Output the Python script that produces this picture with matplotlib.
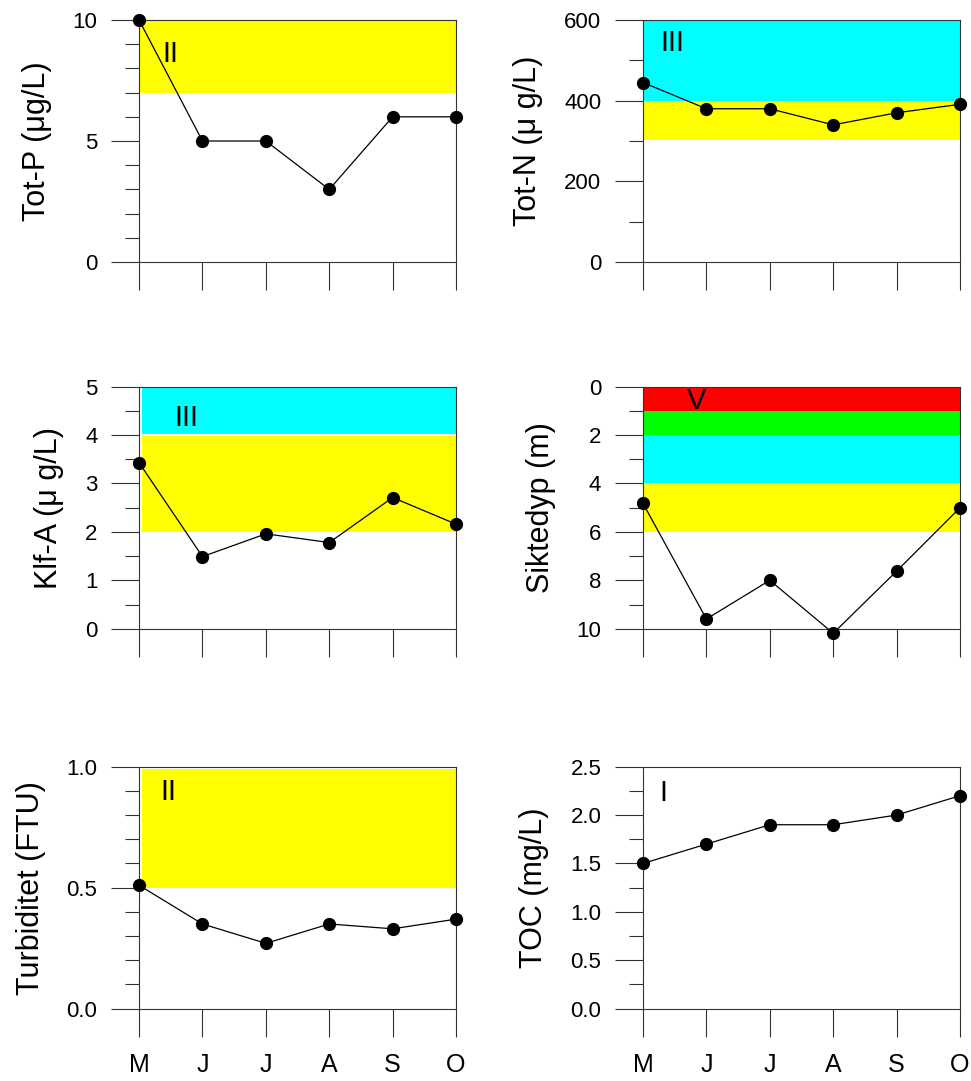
import matplotlib.pyplot as plt
from matplotlib.ticker import MultipleLocator, FormatStrFormatter

plt.rcParams['font.family'] = ['Liberation Sans', 'DejaVu Sans']

months = ['M', 'J', 'J', 'A', 'S', 'O']

tot_p = [10, 5, 5, 3, 6, 6]
tot_n = [445, 380, 380, 340, 370, 391]
klf_a = [3.43, 1.49, 1.96, 1.78, 2.71, 2.16]
siktedyp = [4.82, 9.6, 8.0, 10.19, 7.62, 5.0]
turbiditet = [0.51, 0.35, 0.27, 0.35, 0.33, 0.37]
toc = [1.5, 1.7, 1.9, 1.9, 2.0, 2.2]

labels = ['Tot-P (μg/L)', 'Tot-N (μ g/L)', 'Klf-A (μ g/L)',
          'Siktedyp (m)', 'Turbiditet (FTU)', 'TOC (mg/L)']
classes = ['II', 'III', 'III', 'V', 'II', 'I']
class_pos = [(0.49, 8.6), (0.47, 543), (0.75, 4.36), (0.85, 0.58), (0.46, 0.897), (0.32, 2.23)]

# colour bands (low, high, colour) for each panel
bands_p = [(7, 10, '#ffff00')]
bands_n = [(400, 600, '#00ffff'), (302, 398, '#ffff00')]
bands_a = [(4.03, 5, '#00ffff'), (2, 3.98, '#ffff00')]
bands_s = [(0, 1, '#ff0000'), (1, 2, '#00ff00'), (2, 4, '#00ffff'), (4, 6, '#ffff00')]
bands_t = [(0.5, 0.99, '#ffff00')]
bands_c = []

series = [tot_p, tot_n, klf_a, siktedyp, turbiditet, toc]
bands = [bands_p, bands_n, bands_a, bands_s, bands_t, bands_c]
ylims = [(0, 10), (0, 600), (0, 5), (10, 0), (0, 1), (0, 2.5)]
major = [5, 200, 1, 2, 0.5, 0.5]
minor = [1, 100, 0.5, 1, 0.1, 0.25]
fmts = ['%d', '%d', '%d', '%d', '%.1f', '%.1f']
band_x = [(0, 5), (0, 5), (0.05, 5.05), (0, 5), (0.05, 5.05), (0, 5)]

fig = plt.figure(figsize=(9.71, 10.81), dpi=100)

lefts = [0.1432, 0.6622]
bottoms = [0.7576, 0.4184, 0.0669]
w, h = 0.3265, 0.2239

for i in range(6):
    ax = fig.add_axes([lefts[i % 2], bottoms[i // 2], w, h])
    x = list(range(len(months)))
    for lo, hi, c in bands[i]:
        ax.fill_between(band_x[i], [lo, lo], [hi, hi], color=c, lw=0, zorder=1)
    ax.plot(x, series[i], color='black', lw=0.9, marker='o', ms=8.5,
            clip_on=False, zorder=5)
    ax.text(class_pos[i][0], class_pos[i][1], classes[i], fontsize=21,
            ha='center', va='center', zorder=6)
    ax.set_xlim(0, 5)
    ax.set_ylim(*ylims[i])
    ax.yaxis.set_major_locator(MultipleLocator(major[i]))
    ax.yaxis.set_minor_locator(MultipleLocator(minor[i]))
    ax.yaxis.set_major_formatter(FormatStrFormatter(fmts[i]))
    ax.set_xticks(x)
    if i >= 4:
        ax.set_xticklabels(months)
    else:
        ax.set_xticklabels([])
    ax.tick_params(axis='y', which='major', length=20, width=0.8, pad=10,
                   labelsize=16, color='#333333')
    ax.tick_params(axis='y', which='minor', length=10, width=0.8, color='#333333')
    ax.tick_params(axis='x', which='major', length=20, width=0.8, pad=12,
                   labelsize=18, color='#333333')
    for s in ax.spines.values():
        s.set_linewidth(0.8)
        s.set_color('#333333')
        s.set_zorder(4)
    ax.set_ylabel(labels[i], fontsize=22, labelpad=15)

fig.savefig('out.png', dpi=100)
